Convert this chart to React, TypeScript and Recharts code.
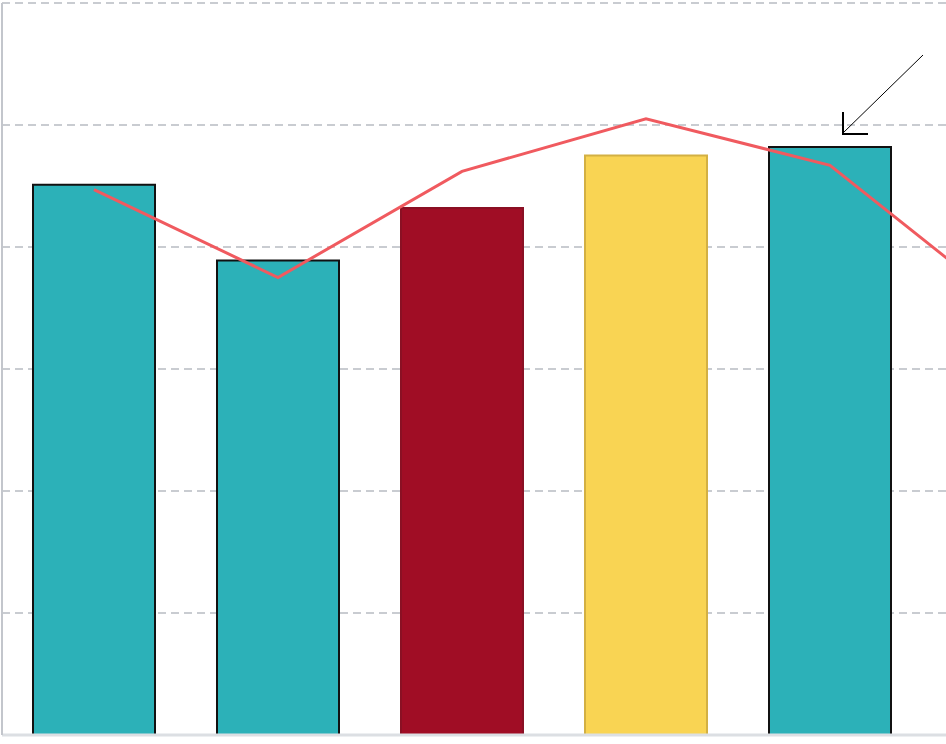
import React from "react";
import {
  ComposedChart,
  Bar,
  Line,
  Cell,
  XAxis,
  YAxis,
  CartesianGrid,
} from "recharts";

const categories = ["A", "B", "C", "D", "E", "F"];
const barValues = [451, 389, 432, 475, 482, null];
const lineValues = [447, 375, 462, 505, 467, 347];
const yTicks = [0, 100, 200, 300, 400, 500, 600];

const barFills = ["#2cb1b8", "#2cb1b8", "#a00d25", "#f9d453", "#2cb1b8", "#2cb1b8"];
const barStrokes = ["#111111", "#111111", "#8a1024", "#d3b043", "#111111", "#111111"];

const data = categories.map((name, i) => ({
  name,
  bar: barValues[i],
  line: lineValues[i],
}));

export default function App() {
  return (
    <div
      style={{
        position: "fixed",
        top: 0,
        left: 0,
        width: 946,
        height: 744,
        overflow: "hidden",
        background: "#fff",
      }}
    >
      <ComposedChart
        width={1106}
        height={744}
        data={data}
        margin={{ top: 3, right: 0, left: 0, bottom: 0 }}
        barCategoryGap={31}
      >
        <CartesianGrid
          vertical={false}
          stroke="#c9ccd1"
          strokeWidth={2}
          strokeDasharray="8 5"
        />
        <XAxis
          dataKey="name"
          height={9}
          tickFormatter={() => ""}
          tickLine={false}
          axisLine={{ stroke: "#dcdfe3", strokeWidth: 3 }}
        />
        <YAxis
          width={2}
          domain={[0, 600]}
          ticks={yTicks}
          interval={0}
          tickFormatter={() => ""}
          tickLine={false}
          axisLine={{ stroke: "#c3c6cc", strokeWidth: 2 }}
        />
        <Bar dataKey="bar" strokeWidth={2} isAnimationActive={false}>
          {data.map((d, i) => (
            <Cell key={d.name} fill={barFills[i]} stroke={barStrokes[i]} />
          ))}
        </Bar>
        <Line
          type="linear"
          dataKey="line"
          stroke="#f05a5f"
          strokeWidth={3}
          dot={false}
          isAnimationActive={false}
        />
      </ComposedChart>
      <svg
        width={946}
        height={744}
        style={{ position: "absolute", top: 0, left: 0, pointerEvents: "none" }}
      >
        <line x1={923} y1={55} x2={843} y2={133} stroke="#000" strokeWidth={1} />
        <polyline
          points="843,112 843,134 868,134"
          fill="none"
          stroke="#000"
          strokeWidth={2}
        />
      </svg>
    </div>
  );
}
